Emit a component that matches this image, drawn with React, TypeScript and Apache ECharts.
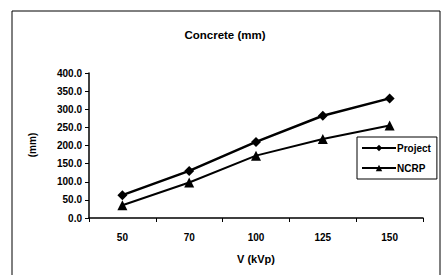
import React, { useEffect, useRef } from "react";
import * as echarts from "echarts";

const categories = ["50", "70", "100", "125", "150"];
const projectValues = [63, 130, 210, 282, 330];
const ncrpValues = [35, 98, 172, 218, 255];
const titleText = "Concrete (mm)";
const xAxisName = "V (kVp)";
const yAxisName = "(mm)";

export default function App() {
  const ref = useRef<HTMLDivElement>(null);
  useEffect(() => {
    document.body.style.margin = "0";
    const chart = echarts.init(ref.current!, null, { renderer: "svg" });
    const font = "Liberation Sans, Arial, sans-serif";
    chart.setOption({
      animation: false,
      backgroundColor: "#ffffff",
      textStyle: { fontFamily: font },
      title: {
        text: titleText,
        left: 220,
        top: 24,
        textAlign: "center",
        textStyle: { fontSize: 11.5, fontWeight: "bold", color: "#000", fontFamily: font },
      },
      graphic: [
        {
          type: "rect",
          shape: { x: 12, y: 11, width: 428, height: 270 },
          style: { fill: "none", stroke: "#000", lineWidth: 1 },
          silent: true,
        },
        {
          type: "text",
          x: 32,
          y: 145,
          rotation: Math.PI / 2,
          style: {
            text: yAxisName,
            fontSize: 10,
            fontWeight: "bold",
            fontFamily: font,
            fill: "#000",
            align: "center",
            verticalAlign: "middle",
          },
        },
      ],
      legend: {
        orient: "vertical",
        left: 357,
        top: 137,
        width: 80,
        borderColor: "#000",
        borderWidth: 1,
        padding: [6, 6, 6, 4],
        itemGap: 10,
        itemWidth: 34,
        itemHeight: 8,
        textStyle: { fontSize: 10, fontWeight: "bold", color: "#000", fontFamily: font, padding: [0, 0, 0, -4] },
        data: ["Project", "NCRP"],
      },
      grid: { left: 89, right: 18, top: 73, bottom: 57, containLabel: false },
      xAxis: {
        type: "category",
        data: categories,
        boundaryGap: true,
        name: xAxisName,
        nameLocation: "middle",
        nameGap: 35,
        nameTextStyle: { fontSize: 11, fontWeight: "bold", color: "#000", fontFamily: font },
        axisLine: { lineStyle: { color: "#000", width: 1.5 } },
        axisTick: { show: true, inside: false, length: 4, lineStyle: { color: "#000" } },
        axisLabel: { fontSize: 10, fontWeight: "bold", color: "#000", margin: 14, fontFamily: font },
        splitLine: { show: false },
      },
      yAxis: {
        type: "value",
        min: 0,
        max: 400,
        interval: 50,
        axisLine: { show: true, lineStyle: { color: "#000", width: 1.5 } },
        axisTick: { show: true, inside: false, length: 4, lineStyle: { color: "#000" } },
        axisLabel: {
          fontSize: 10,
          fontWeight: "bold",
          color: "#000",
          margin: 7,
          fontFamily: font,
          formatter: (v: number) => v.toFixed(1),
        },
        splitLine: { show: false },
      },
      series: [
        {
          name: "Project",
          type: "line",
          data: projectValues,
          symbol: "diamond",
          symbolSize: 10,
          itemStyle: { color: "#000" },
          lineStyle: { color: "#000", width: 2.5 },
        },
        {
          name: "NCRP",
          type: "line",
          data: ncrpValues,
          symbol: "triangle",
          symbolSize: 10,
          itemStyle: { color: "#000" },
          lineStyle: { color: "#000", width: 2 },
        },
      ],
    });
    return () => chart.dispose();
  }, []);
  return <div ref={ref} style={{ width: 441, height: 275 }} />;
}
